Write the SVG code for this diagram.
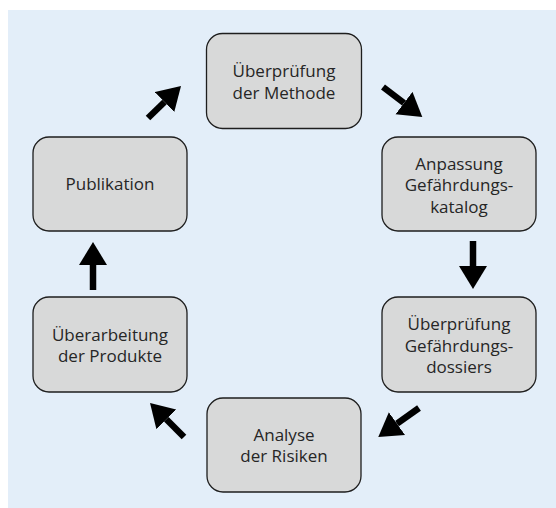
<svg xmlns="http://www.w3.org/2000/svg" width="556" height="508" viewBox="0 0 556 508">
<defs>
<style>
.box{fill:#d8d9d9;stroke:#1e1e1e;stroke-width:1.3}
.lbl{font-family:"Open Sans","Noto Sans","Liberation Sans",sans-serif;font-size:17px;fill:#262626;text-anchor:middle}
.arr{stroke:#000;stroke-width:6.5;fill:none;marker-end:url(#head)}
</style>
<marker id="head" markerUnits="userSpaceOnUse" markerWidth="24" markerHeight="30" refX="0" refY="14" orient="auto">
<path d="M0,0 L23,14 L0,28 z" fill="#000"/>
</marker>
</defs>
<rect x="8" y="10" width="548" height="498" fill="#e3eef9"/>
<g id="connectors">
<line class="arr" x1="148" y1="118" x2="164.5" y2="102"/>
<line class="arr" x1="383" y1="87" x2="404" y2="103"/>
<line class="arr" x1="473" y1="241" x2="473" y2="266"/>
<line class="arr" x1="419" y1="408" x2="397" y2="423.7"/>
<line class="arr" x1="184" y1="437" x2="166.3" y2="419.3"/>
<line class="arr" x1="93" y1="290" x2="93" y2="265"/>
</g>
<g id="n1">
<rect class="box" x="206.5" y="33.5" width="155" height="95" rx="16"/>
<text class="lbl" x="284" y="77">Überprüfung</text>
<text class="lbl" x="284" y="98.5">der Methode</text>
</g>
<g id="n2">
<rect class="box" x="382" y="137" width="154" height="94" rx="16"/>
<text class="lbl" x="459" y="169.5">Anpassung</text>
<text class="lbl" x="459" y="191">Gefährdungs-</text>
<text class="lbl" x="459" y="212.5">katalog</text>
</g>
<g id="n3">
<rect class="box" x="382" y="297" width="154" height="95" rx="16"/>
<text class="lbl" x="459" y="330">Überprüfung</text>
<text class="lbl" x="459" y="351.5">Gefährdungs-</text>
<text class="lbl" x="459" y="373">dossiers</text>
</g>
<g id="n4">
<rect class="box" x="207" y="398" width="154" height="94" rx="16"/>
<text class="lbl" x="284" y="440.5">Analyse</text>
<text class="lbl" x="284" y="462">der Risiken</text>
</g>
<g id="n5">
<rect class="box" x="33" y="297" width="154" height="95" rx="16"/>
<text class="lbl" x="110" y="340.5">Überarbeitung</text>
<text class="lbl" x="110" y="362">der Produkte</text>
</g>
<g id="n6">
<rect class="box" x="33" y="137" width="154" height="94" rx="16"/>
<text class="lbl" x="110" y="190">Publikation</text>
</g>
</svg>
